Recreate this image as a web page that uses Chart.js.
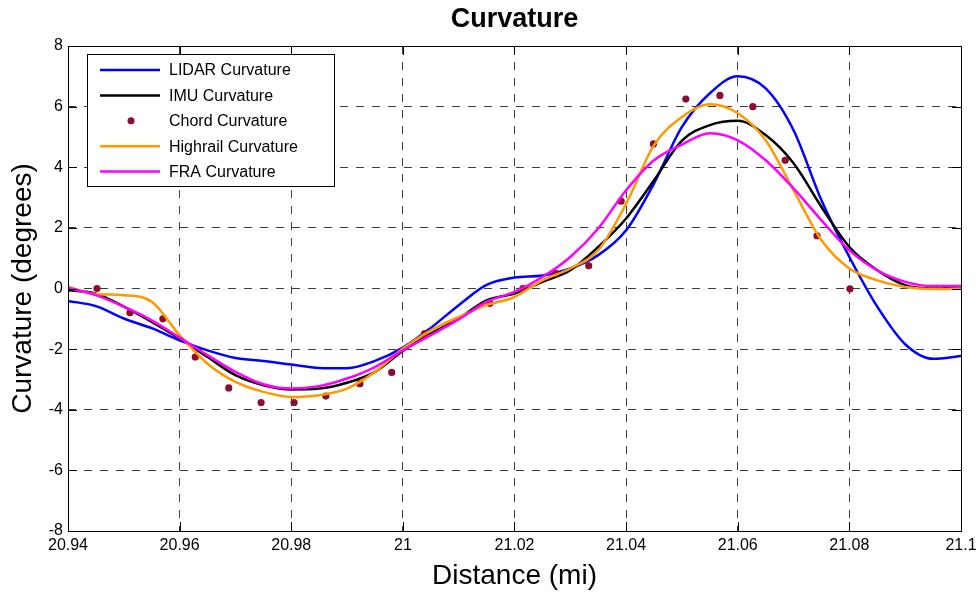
<!DOCTYPE html>
<html>
<head>
<meta charset="utf-8">
<script src="https://cdn.jsdelivr.net/npm/chart.js@4.4.0/dist/chart.umd.min.js"></script>
<style>
    html, body { margin: 0; padding: 0; background: #ffffff; }
    #wrap { width: 979px; height: 595px; position: relative; }
</style>
</head>
<body>
<div id="wrap"><canvas id="curvature-chart"></canvas></div>
<script>
// Distance samples for the continuous curves (mi)
const distance = [
    20.940, 20.945, 20.950, 20.955, 20.960, 20.965, 20.970, 20.975, 20.980, 20.985, 20.990,
    20.995, 21.000, 21.005, 21.010, 21.015, 21.020, 21.025, 21.030, 21.035, 21.040, 21.045,
    21.050, 21.055, 21.060, 21.065, 21.070, 21.075, 21.080, 21.085, 21.090, 21.095, 21.100
];
const lidarCurvature = [
    -0.41, -0.58, -0.99, -1.31, -1.71, -2.04, -2.29, -2.39, -2.51, -2.62, -2.63,
    -2.39, -1.95, -1.30, -0.55, 0.12, 0.36, 0.43, 0.66, 1.10, 1.92, 3.47,
    5.33, 6.44, 7.00, 6.60, 5.22, 2.91, 1.04, -0.60, -1.84, -2.32, -2.23
];
const imuCurvature = [
    -0.06, -0.17, -0.60, -1.10, -1.65, -2.26, -2.86, -3.19, -3.33, -3.30, -3.11,
    -2.75, -2.06, -1.49, -0.99, -0.39, -0.17, 0.22, 0.60, 1.37, 2.31, 3.57,
    4.88, 5.39, 5.53, 5.06, 4.13, 2.69, 1.37, 0.60, 0.11, 0.00, 0.03
];
const highrailCurvature = [
    0.05, -0.18, -0.22, -0.44, -1.54, -2.48, -3.08, -3.41, -3.58, -3.52, -3.30,
    -2.75, -1.98, -1.38, -0.94, -0.55, -0.28, 0.27, 0.66, 1.26, 2.80, 4.73,
    5.66, 6.08, 5.78, 4.89, 3.24, 1.59, 0.66, 0.27, 0.05, -0.02, 0.00
];
const fraCurvature = [
    0.03, -0.22, -0.60, -1.05, -1.62, -2.20, -2.75, -3.16, -3.30, -3.22, -2.97,
    -2.59, -2.04, -1.54, -1.02, -0.44, -0.11, 0.38, 1.04, 1.98, 3.24, 4.23,
    4.75, 5.12, 4.89, 4.23, 3.30, 2.25, 1.26, 0.60, 0.22, 0.08, 0.08
];
// Chord measurements
const chordDistance = [
    20.9452, 20.9511, 20.9570, 20.9628, 20.9688, 20.9746, 20.9805, 20.9862, 20.9923, 20.9980, 21.0039,
    21.0156, 21.0215, 21.0274, 21.0333, 21.0391, 21.0449, 21.0507, 21.0568, 21.0627, 21.0685, 21.0742, 21.0801
];
const chordCurvature = [
    0.00, -0.80, -1.00, -2.26, -3.28, -3.76, -3.76, -3.55, -3.14, -2.77, -1.49,
    -0.49, 0.00, 0.50, 0.75, 2.88, 4.77, 6.25, 6.37, 6.00, 4.23, 1.74, -0.01
];
const xTicks = [20.94, 20.96, 20.98, 21.00, 21.02, 21.04, 21.06, 21.08, 21.10];
const yTicks = [-8, -6, -4, -2, 0, 2, 4, 6, 8];

const FONT = '"Liberation Sans", Arial, Helvetica, sans-serif';

function toPoints(xs, ys) {
    return xs.map((x, i) => ({ x: x, y: ys[i] }));
}

// White background, axes box, inside tick marks, title and legend like MATLAB
const frame = {
    id: 'frame',
    beforeDraw(chart) {
        const ctx = chart.ctx;
        ctx.save();
        ctx.fillStyle = '#ffffff';
        ctx.fillRect(0, 0, chart.width, chart.height);
        ctx.restore();
    },
    afterDraw(chart) {
        const ctx = chart.ctx;
        const a = chart.chartArea;
        const xs = chart.scales.x;
        const ys = chart.scales.y;
        ctx.save();
        ctx.strokeStyle = '#000000';
        ctx.lineWidth = 1;
        ctx.beginPath();
        xTicks.forEach(v => {
            const px = Math.round(xs.getPixelForValue(v)) + 0.5;
            ctx.moveTo(px, a.bottom); ctx.lineTo(px, a.bottom - 9);
            ctx.moveTo(px, a.top); ctx.lineTo(px, a.top + 9);
        });
        yTicks.forEach(v => {
            const py = Math.round(ys.getPixelForValue(v)) + 0.5;
            ctx.moveTo(a.left, py); ctx.lineTo(a.left + 9, py);
            ctx.moveTo(a.right, py); ctx.lineTo(a.right - 9, py);
        });
        ctx.stroke();
        ctx.strokeRect(Math.round(a.left) + 0.5, Math.round(a.top) + 0.5,
            Math.round(a.right - a.left), Math.round(a.bottom - a.top));

        // Title centred over the axes
        ctx.fillStyle = '#000000';
        ctx.font = 'bold 27px ' + FONT;
        ctx.textAlign = 'center';
        ctx.textBaseline = 'middle';
        ctx.fillText('Curvature', (a.left + a.right) / 2, 20);

        // Legend box (top-left inside the axes)
        const bx = 87.5, by = 54.5, bw = 247, bh = 132;
        ctx.fillStyle = '#ffffff';
        ctx.fillRect(bx, by, bw, bh);
        ctx.strokeRect(bx, by, bw, bh);
        ctx.font = '16px ' + FONT;
        ctx.textAlign = 'left';
        chart.data.datasets.forEach((ds, i) => {
            const rowY = 70 + i * 25.4;
            if (ds.showLine === false) {
                ctx.fillStyle = ds.pointBackgroundColor;
                ctx.beginPath();
                ctx.arc(131, rowY, 3.5, 0, Math.PI * 2);
                ctx.fill();
            } else {
                ctx.strokeStyle = ds.borderColor;
                ctx.lineWidth = 2.5;
                ctx.beginPath();
                ctx.moveTo(100, rowY);
                ctx.lineTo(160, rowY);
                ctx.stroke();
            }
            ctx.fillStyle = '#000000';
            ctx.fillText(ds.label, 169, rowY + 1);
        });
        ctx.restore();
    }
};

const lineStyle = {
    pointRadius: 0,
    borderWidth: 2.5,
    fill: false,
    cubicInterpolationMode: 'monotone'
};

new Chart(document.getElementById('curvature-chart'), {
    type: 'scatter',
    data: {
        datasets: [
            Object.assign({
                label: 'LIDAR Curvature',
                data: toPoints(distance, lidarCurvature),
                borderColor: '#0000ff',
                showLine: true,
                order: 5
            }, lineStyle),
            Object.assign({
                label: 'IMU Curvature',
                data: toPoints(distance, imuCurvature),
                borderColor: '#000000',
                showLine: true,
                order: 4
            }, lineStyle),
            {
                label: 'Chord Curvature',
                data: toPoints(chordDistance, chordCurvature),
                showLine: false,
                pointRadius: 3.6,
                pointBorderWidth: 0,
                pointBackgroundColor: '#8c0b2e',
                pointBorderColor: '#8c0b2e',
                order: 3
            },
            Object.assign({
                label: 'Highrail Curvature',
                data: toPoints(distance, highrailCurvature),
                borderColor: '#ff9900',
                showLine: true,
                order: 2
            }, lineStyle),
            Object.assign({
                label: 'FRA Curvature',
                data: toPoints(distance, fraCurvature),
                borderColor: '#ff00ff',
                showLine: true,
                order: 1
            }, lineStyle)
        ]
    },
    options: {
        responsive: true,
        maintainAspectRatio: false,
        animation: false,
        layout: {
            padding: { top: 46, right: 18, bottom: 0, left: 0 }
        },
        plugins: {
            legend: { display: false },
            tooltip: { enabled: false },
            title: { display: false }
        },
        scales: {
            x: {
                type: 'linear',
                min: 20.94,
                max: 21.1,
                afterBuildTicks: function(scale) {
                    scale.ticks = xTicks.map(v => ({ value: v }));
                },
                afterFit: function(scale) {
                    scale.height = 64;
                    scale.paddingLeft = 0;
                    scale.paddingRight = 0;
                },
                grid: {
                    color: '#3c3c3c',
                    lineWidth: 1,
                    drawTicks: false
                },
                border: { display: false, dash: [8, 8] },
                ticks: {
                    color: '#000000',
                    padding: 5,
                    maxRotation: 0,
                    autoSkip: false,
                    font: { family: FONT, size: 16 },
                    callback: function(value) {
                        return String(parseFloat(value.toFixed(2)));
                    }
                },
                title: {
                    display: true,
                    text: 'Distance (mi)',
                    color: '#000000',
                    font: { family: FONT, size: 28 },
                    padding: { top: 2, bottom: 2 }
                }
            },
            y: {
                type: 'linear',
                min: -8,
                max: 8,
                afterBuildTicks: function(scale) {
                    scale.ticks = yTicks.map(v => ({ value: v }));
                },
                afterFit: function(scale) {
                    scale.width = 68;
                },
                grid: {
                    color: '#3c3c3c',
                    lineWidth: 1,
                    drawTicks: false
                },
                border: { display: false, dash: [8, 8] },
                ticks: {
                    color: '#000000',
                    padding: 5,
                    autoSkip: false,
                    font: { family: FONT, size: 16 }
                },
                title: {
                    display: true,
                    text: 'Curvature (degrees)',
                    color: '#000000',
                    font: { family: FONT, size: 28 },
                    padding: { top: 6, bottom: 0 }
                }
            }
        }
    },
    plugins: [frame]
});
</script>
</body>
</html>
